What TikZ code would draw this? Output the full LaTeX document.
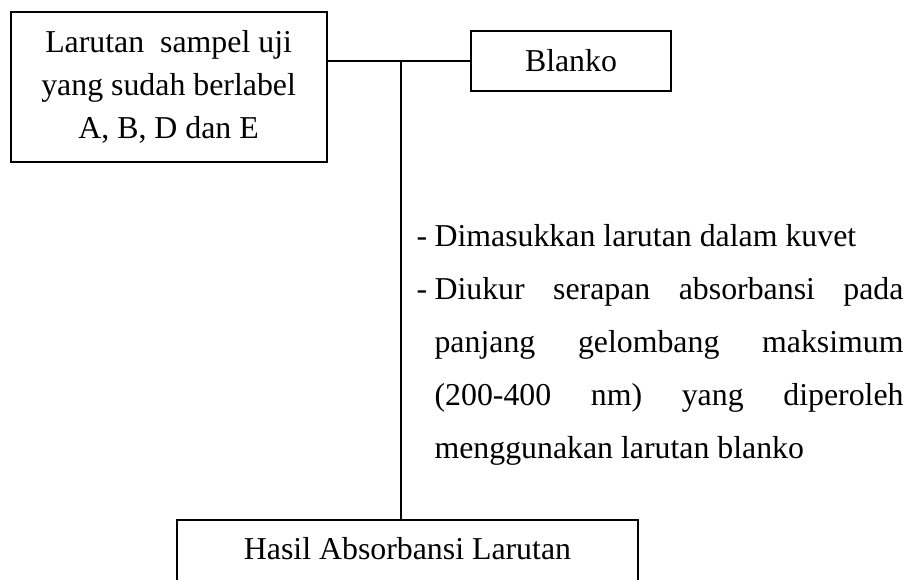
\documentclass[tikz,border=0pt]{standalone}
\usepackage{fontspec}
\setmainfont{Liberation Serif}
\begin{document}
\begin{tikzpicture}[
    x=0.377pt, y=-0.377pt,
    box/.style={rectangle, draw, line width=0.75pt, inner sep=0pt, align=center, font=\fontsize{12pt}{16.2pt}\selectfont},
    stepnote/.style={text width=183.6pt, align=justify, inner sep=0pt, anchor=base west, font=\fontsize{12pt}{20pt}\selectfont},
    line/.style={line width=0.75pt}
]
\path[use as bounding box, clip] (0,0) rectangle (907,579);

% sample box and blank box
\node[box, minimum width=119.1pt, minimum height=56.6pt] (sampel) at (168.6, 87) {Larutan\ \ sampel uji\\yang sudah berlabel\\A, B, D dan E};
\node[box, minimum width=75.4pt, minimum height=22.6pt] (blanko) at (571, 61) {Blanko};

% result box (its lower edge falls below the page)
\node[box, minimum width=173.8pt, text height=14.7pt, text depth=22.6pt, anchor=north] (hasil) at (407.5, 519) {Hasil Absorbansi Larutan};

% branch point on the joining line
\coordinate (cabang) at (401, 61);

\draw[line] (sampel.east |- blanko.west) -- (blanko.west);
\draw[line] (cabang) -- (cabang |- hasil.north);

% steps beside the vertical line
\node[stepnote] (langkah) at (416, 246) {%
\makebox[6.8pt][l]{-}Dimasukkan larutan dalam kuvet\par
\makebox[6.8pt][l]{-}\parbox[t]{176.8pt}{Diukur serapan absorbansi pada\linebreak
panjang gelombang maksimum\linebreak
(200-400 nm) yang diperoleh\linebreak
menggunakan larutan blanko}};

\end{tikzpicture}
\end{document}
